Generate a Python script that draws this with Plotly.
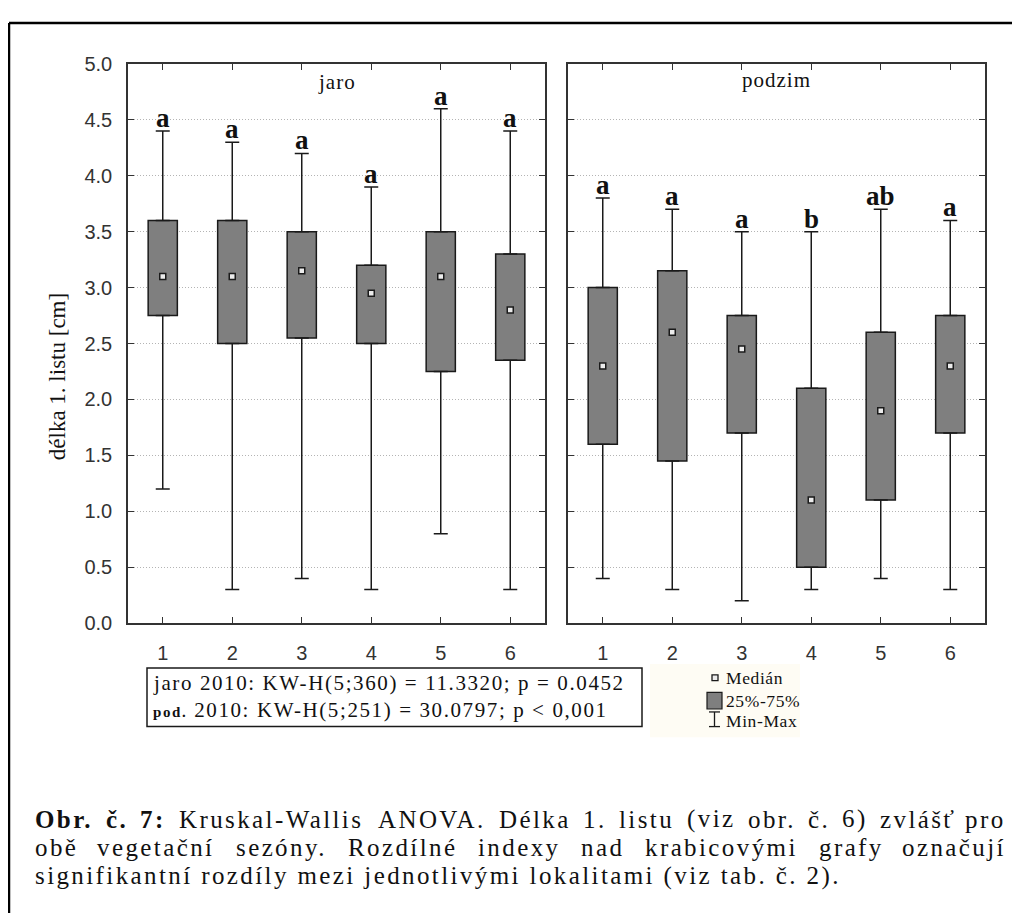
import plotly.graph_objects as go
import unicodedata

# ---------------- data ----------------
categories = [1, 2, 3, 4, 5, 6]
tick_labels = ["1", "2", "3", "4", "5", "6"]

jaro_min = [1.2, 0.3, 0.4, 0.3, 0.8, 0.3]
jaro_q1 = [2.75, 2.5, 2.55, 2.5, 2.25, 2.35]
jaro_median = [3.1, 3.1, 3.15, 2.95, 3.1, 2.8]
jaro_q3 = [3.6, 3.6, 3.5, 3.2, 3.5, 3.3]
jaro_max = [4.4, 4.3, 4.2, 3.9, 4.6, 4.4]
jaro_letters = ["a", "a", "a", "a", "a", "a"]

podzim_min = [0.4, 0.3, 0.2, 0.3, 0.4, 0.3]
podzim_q1 = [1.6, 1.45, 1.7, 0.5, 1.1, 1.7]
podzim_median = [2.3, 2.6, 2.45, 1.1, 1.9, 2.3]
podzim_q3 = [3.0, 3.15, 2.75, 2.1, 2.6, 2.75]
podzim_max = [3.8, 3.7, 3.5, 3.5, 3.7, 3.6]
podzim_letters = ["a", "a", "a", "b", "ab", "a"]

panel_titles = ["jaro", "podzim"]
y_title = "délka 1. listu [cm]"
stat_line1 = "jaro 2010: KW-H(5;360) = 11.3320; p = 0.0452"
stat_line2_bold = "pod."
stat_line2 = " 2010: KW-H(5;251) = 30.0797; p &lt; 0,001"
legend_labels = ["Medián", "25%-75%", "Min-Max"]

caption_line1 = [("Obr.", True), ("č.", True), ("7:", True), ("Kruskal-Wallis", False),
                 ("ANOVA.", False), ("Délka", False), ("1.", False), ("listu", False),
                 ("(viz", False), ("obr.", False), ("č.", False), ("6)", False),
                 ("zvlášť", False), ("pro", False)]
caption_line2 = [("obě", False), ("vegetační", False), ("sezóny.", False), ("Rozdílné", False),
                 ("indexy", False), ("nad", False), ("krabicovými", False), ("grafy", False),
                 ("označují", False)]
caption_line3 = "signifikantní rozdíly mezi jednotlivými lokalitami (viz tab. č. 2)."

# ---------------- helpers ----------------
# the page body has an 8px margin, so the figure is drawn 8px in and is 8px smaller
OFF = 8
W, H = 1020 - OFF, 924 - OFF
def PX(x):
    return (x - OFF) / W
def PY(y):
    return 1 - (y - OFF) / H

SERIF = "Liberation Serif, Times New Roman, serif"
SANS = "Liberation Sans, Arial, sans-serif"

def ls(text, px):
    return f"<span style='letter-spacing:{px}px'>{text}</span>"

TR = {' ': 250, '!': 333, '(': 333, ')': 333, ',': 250, '-': 333, '.': 250, ':': 278, ';': 278,
      'A': 722, 'B': 667, 'C': 667, 'D': 722, 'E': 611, 'F': 556, 'G': 722, 'H': 722, 'I': 333,
      'J': 389, 'K': 722, 'L': 611, 'M': 889, 'N': 722, 'O': 722, 'P': 556, 'Q': 722, 'R': 667,
      'S': 556, 'T': 611, 'U': 722, 'V': 722, 'W': 944, 'X': 722, 'Y': 722, 'Z': 611,
      'a': 444, 'b': 500, 'c': 444, 'd': 500, 'e': 444, 'f': 333, 'g': 500, 'h': 500, 'i': 278,
      'j': 278, 'k': 500, 'l': 278, 'm': 778, 'n': 500, 'o': 500, 'p': 500, 'q': 500, 'r': 333,
      's': 389, 't': 278, 'u': 500, 'v': 500, 'w': 722, 'x': 500, 'y': 500, 'z': 444}
for d in "0123456789":
    TR[d] = 500
TB = dict(TR)
TB.update({'O': 778, 'b': 556, 'r': 444, 'c': 444, ':': 333})

def text_width(word, size, spacing, bold=False):
    table = TB if bold else TR
    total = 0
    for ch in word:
        if ch == 'ť':
            total += 360
            continue
        base = unicodedata.normalize('NFD', ch)[0]
        total += table.get(base, 500)
    return total / 1000 * size + spacing * len(word)

# ---------------- figure ----------------
fig = go.Figure()

panels = [
    ("x", "y", jaro_min, jaro_q1, jaro_median, jaro_q3, jaro_max, jaro_letters),
    ("x2", "y2", podzim_min, podzim_q1, podzim_median, podzim_q3, podzim_max, podzim_letters),
]

annotations = []
for xa, ya, mn, q1, med, q3, mx, letters in panels:
    fig.add_trace(go.Bar(
        x=categories, y=[b - a for a, b in zip(q1, q3)], base=q1, width=0.42,
        marker=dict(color="#7f7f7f", line=dict(color="#1a1a1a", width=1.5)),
        xaxis=xa, yaxis=ya, showlegend=False, hoverinfo="skip"))
    fig.add_trace(go.Scatter(
        x=categories, y=q3, mode="markers",
        marker=dict(size=2, color="rgba(0,0,0,0)"),
        error_y=dict(type="data", symmetric=False,
                     array=[b - a for a, b in zip(q3, mx)], arrayminus=[0] * len(q3),
                     color="#1a1a1a", thickness=1.5, width=7),
        xaxis=xa, yaxis=ya, showlegend=False, hoverinfo="skip"))
    fig.add_trace(go.Scatter(
        x=categories, y=q1, mode="markers",
        marker=dict(size=2, color="rgba(0,0,0,0)"),
        error_y=dict(type="data", symmetric=False,
                     array=[0] * len(q1), arrayminus=[a - b for a, b in zip(q1, mn)],
                     color="#1a1a1a", thickness=1.5, width=7),
        xaxis=xa, yaxis=ya, showlegend=False, hoverinfo="skip"))
    fig.add_trace(go.Scatter(
        x=categories, y=med, mode="markers",
        marker=dict(symbol="square", size=6, color="#ececec",
                    line=dict(color="#1a1a1a", width=1.5)),
        xaxis=xa, yaxis=ya, showlegend=False, hoverinfo="skip"))
    for c, m, lt in zip(categories, mx, letters):
        annotations.append(dict(
            x=c, y=m, xref=xa, yref=ya, text=f"<b>{lt}</b>", showarrow=False,
            xanchor="center", yanchor="bottom", yshift=-4,
            font=dict(family=SERIF, size=27, color="#111111")))

# panel titles
for xa, title, yc in [("x", panel_titles[0], 73), ("x2", panel_titles[1], 70)]:
    annotations.append(dict(
        x=0.5, y=PY(yc), xref=f"{xa} domain", yref="paper", text=ls(title, 1),
        showarrow=False, xanchor="center", yanchor="middle",
        font=dict(family=SERIF, size=21, color="#111111")))

# y axis title
annotations.append(dict(
    x=PX(57), y=PY(375), xref="paper", yref="paper", text=y_title, textangle=-90,
    showarrow=False, xanchor="center", yanchor="middle",
    font=dict(family=SERIF, size=23, color="#111111")))

# stats box text
annotations.append(dict(
    x=PX(151), y=PY(688), xref="paper", yref="paper", text=ls(stat_line1, 1.6),
    showarrow=False, xanchor="left", yanchor="middle",
    font=dict(family=SERIF, size=21, color="#111111")))
annotations.append(dict(
    x=PX(151), y=PY(716), xref="paper", yref="paper",
    text=ls(f"<b><span style='font-size:15px'>{stat_line2_bold}</span></b>{stat_line2}", 1.6),
    showarrow=False, xanchor="left", yanchor="middle",
    font=dict(family=SERIF, size=21, color="#111111")))

# legend texts
for lab, yc in zip(legend_labels, [683, 707, 727.5]):
    annotations.append(dict(
        x=PX(724), y=PY(yc), xref="paper", yref="paper", text=ls(lab, 0.6),
        showarrow=False, xanchor="left", yanchor="middle",
        font=dict(family=SERIF, size=17.5, color="#111111")))

# caption (lines 1-2 justified)
CAP_SIZE = 25
CAP_LS = 2.4
CAP_X0, CAP_X1 = 33, 1008
for words, yc in [(caption_line1, 828), (caption_line2, 857)]:
    widths = [text_width(w, CAP_SIZE, CAP_LS, b) for w, b in words]
    gap = (CAP_X1 - CAP_X0 - sum(widths)) / (len(words) - 1)
    xpos = CAP_X0
    n = len(words)
    for i, ((w, b), wd) in enumerate(zip(words, widths)):
        txt = f"<b>{w}</b>" if b else w
        if i == 0:
            xx, anchor = xpos, "left"
        elif i == n - 1:
            xx, anchor = CAP_X1, "right"
        else:
            xx, anchor = xpos + wd / 2, "center"
        annotations.append(dict(
            x=PX(xx), y=PY(yc), xref="paper", yref="paper", text=ls(txt, CAP_LS),
            showarrow=False, xanchor=anchor, yanchor="middle",
            font=dict(family=SERIF, size=CAP_SIZE, color="#111111")))
        xpos += wd + gap
annotations.append(dict(
    x=PX(CAP_X0), y=PY(886), xref="paper", yref="paper", text=ls(caption_line3, CAP_LS),
    showarrow=False, xanchor="left", yanchor="middle",
    font=dict(family=SERIF, size=CAP_SIZE, color="#111111")))

# ---------------- shapes ----------------
shapes = [
    # outer frame (top and left)
    dict(type="line", xref="paper", yref="paper", x0=PX(9), x1=PX(1020), y0=PY(12), y1=PY(12),
         line=dict(color="#000000", width=2.5)),
    dict(type="line", xref="paper", yref="paper", x0=PX(9), x1=PX(9), y0=PY(12), y1=PY(924),
         line=dict(color="#000000", width=2.5)),
    # legend background
    dict(type="rect", xref="paper", yref="paper", x0=PX(650), x1=PX(800), y0=PY(669), y1=PY(744),
         fillcolor="#fefcf4", line=dict(width=0), layer="below"),
    # stats box
    dict(type="rect", xref="paper", yref="paper", x0=PX(147), x1=PX(642), y0=PY(673), y1=PY(733),
         fillcolor="#ffffff", line=dict(color="#1a1a1a", width=1.5), layer="below"),
    # legend icons
    dict(type="rect", xref="paper", yref="paper", x0=PX(712), x1=PX(718), y0=PY(680), y1=PY(686),
         fillcolor="#ececec", line=dict(color="#1a1a1a", width=1.3)),
    dict(type="rect", xref="paper", yref="paper", x0=PX(707), x1=PX(722), y0=PY(698), y1=PY(715),
         fillcolor="#7f7f7f", line=dict(color="#1a1a1a", width=1.2)),
    dict(type="line", xref="paper", yref="paper", x0=PX(714.5), x1=PX(714.5), y0=PY(718), y1=PY(733),
         line=dict(color="#1a1a1a", width=1.3)),
    dict(type="line", xref="paper", yref="paper", x0=PX(709), x1=PX(720), y0=PY(718), y1=PY(718),
         line=dict(color="#1a1a1a", width=1.3)),
    dict(type="line", xref="paper", yref="paper", x0=PX(709), x1=PX(720), y0=PY(733), y1=PY(733),
         line=dict(color="#1a1a1a", width=1.3)),
]

# ---------------- axes ----------------
y_dom = [PY(627), PY(54)]
axis_common = dict(showline=True, linecolor="#333333", linewidth=1.5, mirror="ticks",
                   ticks="inside", ticklen=6, tickwidth=1.3, tickcolor="#333333", zeroline=False)
xaxis_common = dict(axis_common, range=[0.5, 6.5], tickmode="array", tickvals=categories,
                    ticktext=tick_labels, showgrid=False, ticklabelstandoff=11,
                    tickfont=dict(family=SANS, size=20, color="#333333"))
yaxis_common = dict(axis_common, range=[0, 5], dtick=0.5, tick0=0, tickformat=".1f",
                    showgrid=True, gridcolor="#b4b4b4", griddash="1px,2px", gridwidth=1,
                    tickfont=dict(family=SANS, size=20, color="#333333"))

fig.update_layout(
    width=W, height=H, autosize=False,
    margin=dict(l=0, r=0, t=0, b=0),
    paper_bgcolor="#ffffff", plot_bgcolor="#ffffff",
    barmode="overlay", showlegend=False,
    xaxis=dict(xaxis_common, domain=[PX(128), PX(545)], anchor="y"),
    yaxis=dict(yaxis_common, domain=y_dom, anchor="x", ticklabelstandoff=10),
    xaxis2=dict(xaxis_common, domain=[PX(568), PX(985)], anchor="y2"),
    yaxis2=dict(yaxis_common, domain=y_dom, anchor="x2", matches="y", showticklabels=False),
    annotations=annotations,
    shapes=shapes,
)

fig.write_html("out.html")
